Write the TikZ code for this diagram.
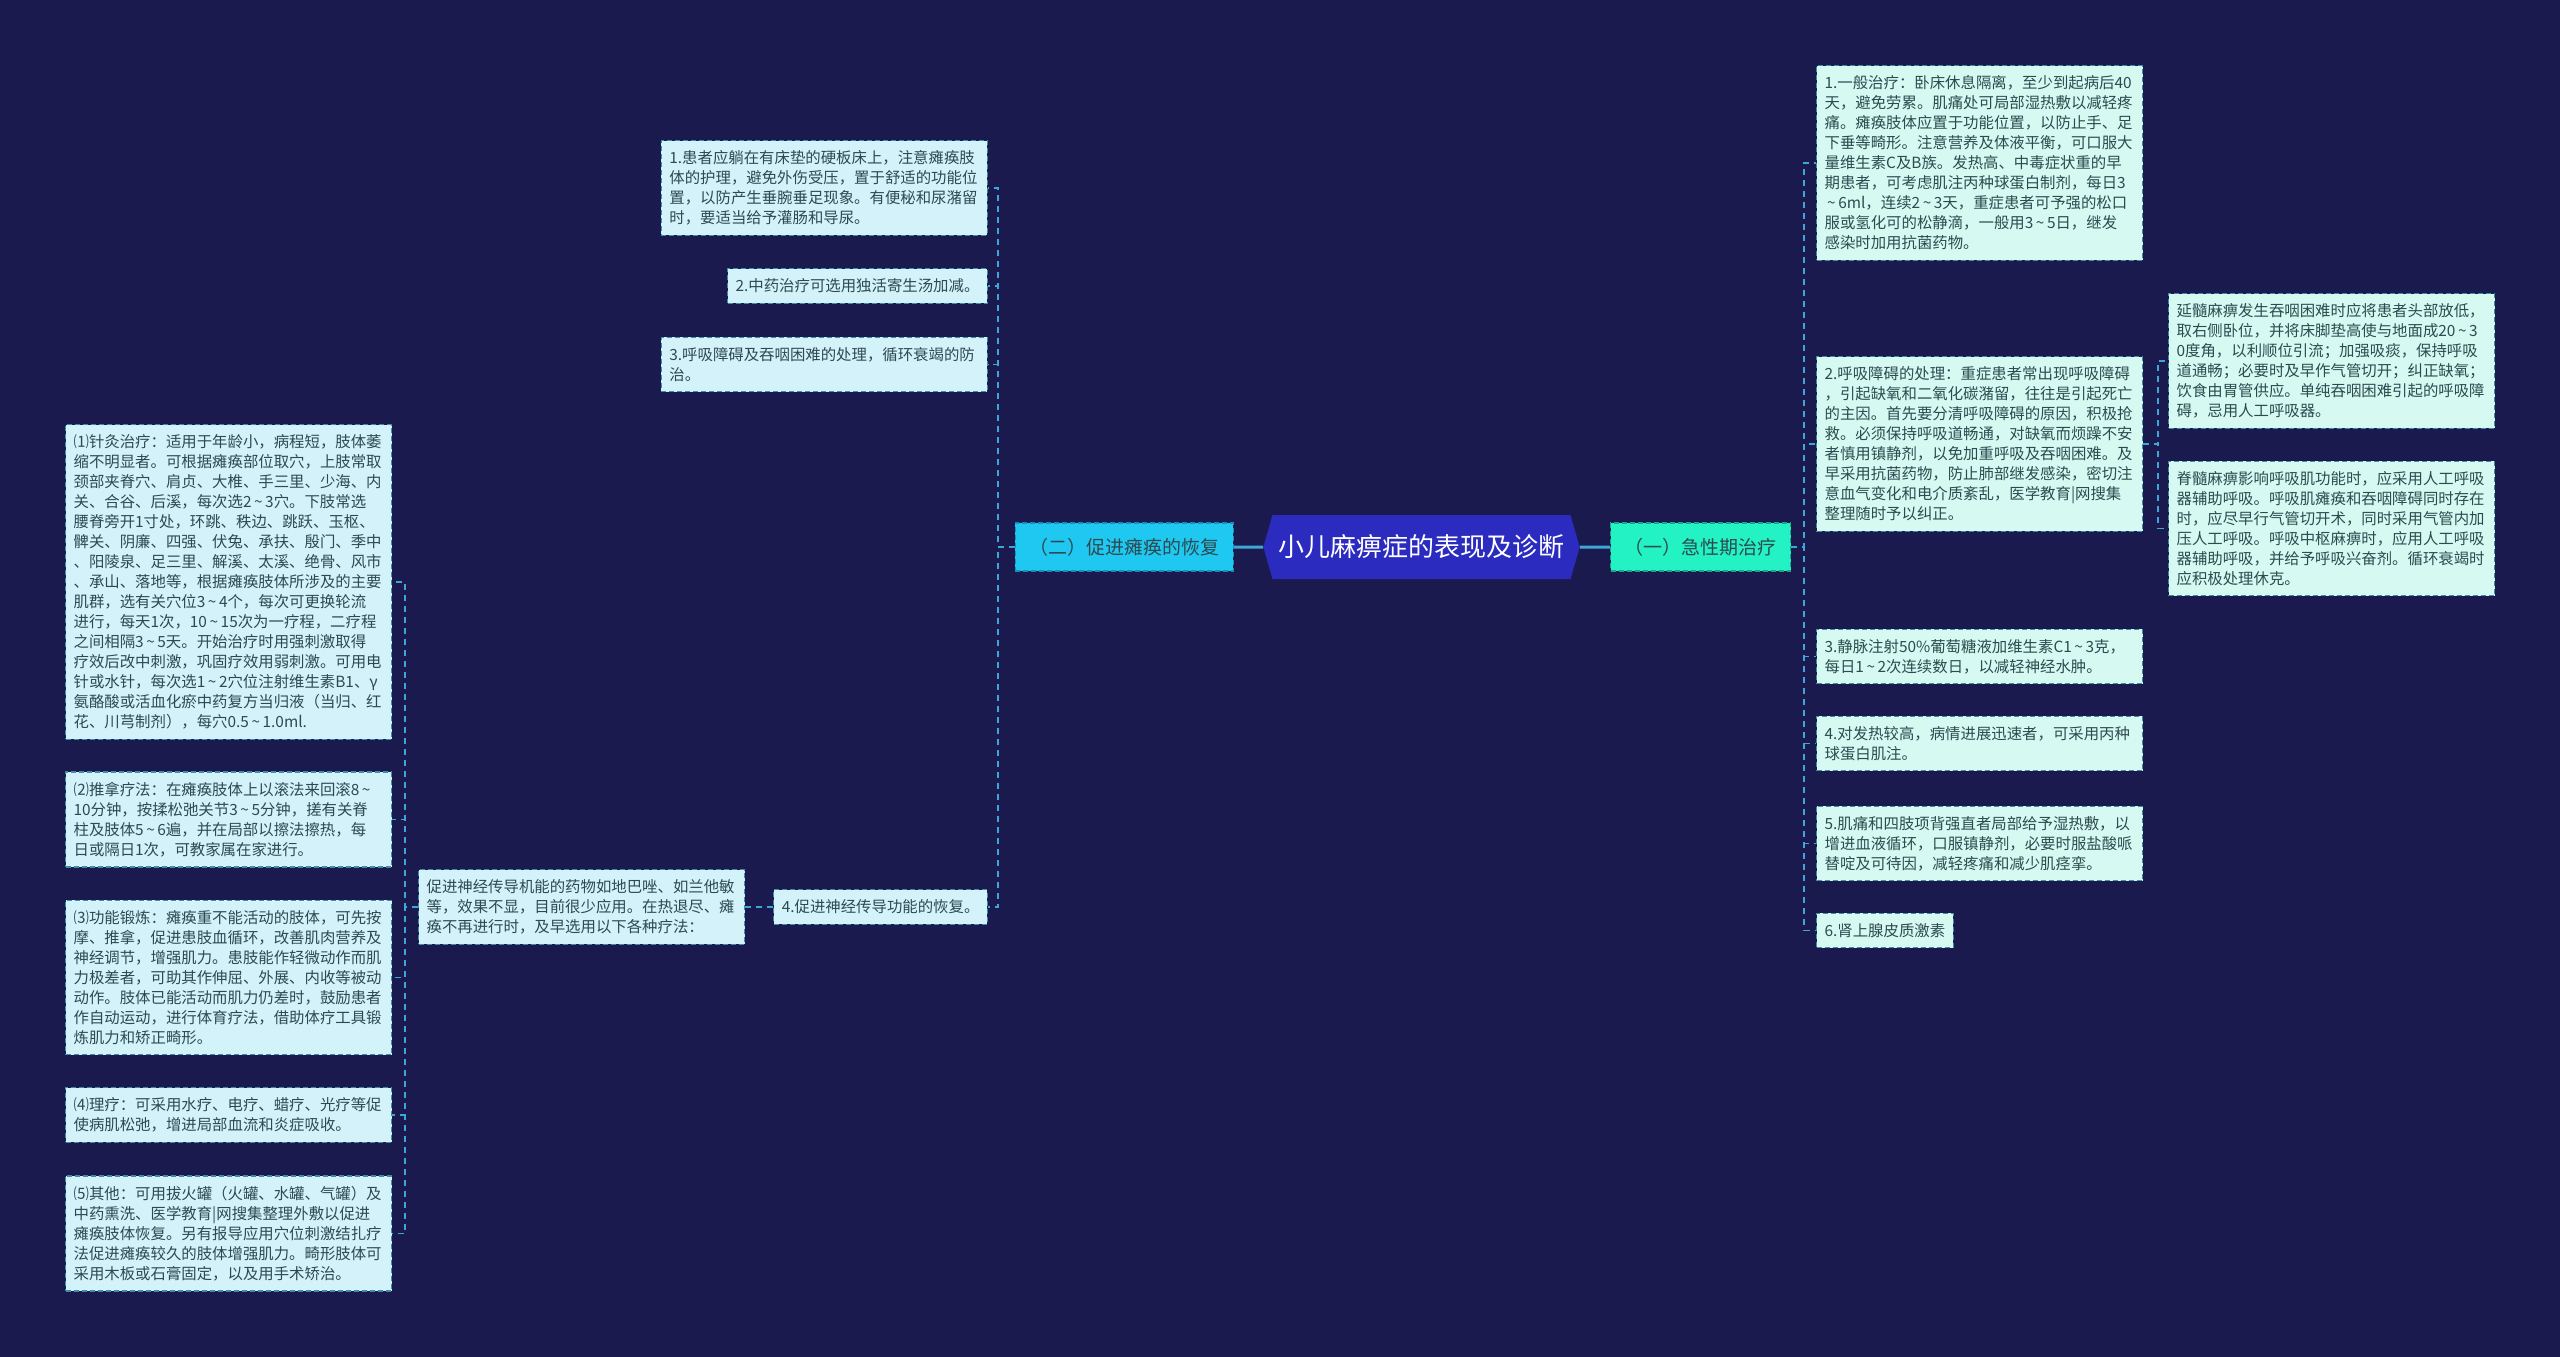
\documentclass[tikz,border=0pt]{standalone}
\usepackage{fontspec}
\newfontfamily\cjk{Noto Sans CJK SC}
\usepackage{tikz}
\usetikzlibrary{shapes.symbols}
\definecolor{night}{HTML}{1A1A4E}
\definecolor{rootfill}{HTML}{2B2BC0}
\definecolor{slowfill}{HTML}{1EC8F0}
\definecolor{slowedge}{HTML}{1590B8}
\definecolor{fastfill}{HTML}{22F2C4}
\definecolor{fastedge}{HTML}{18A888}
\definecolor{slowpanel}{HTML}{D3F2FA}
\definecolor{fastpanel}{HTML}{D6FAF1}
\definecolor{edge}{HTML}{3E8EA6}
\definecolor{linkblue}{HTML}{3DA8D8}
\definecolor{ink}{HTML}{2E4A50}
\newcommand{\rng}{\,\textasciitilde\,}

\begin{document}
\begin{tikzpicture}[x=1pt,y=-1pt,
  every node/.style={font=\cjk\fontsize{15.4}{20}\selectfont,text=ink},
  leaf/.style={draw=edge,dash pattern=on 5pt off 3pt,line width=1.2pt,inner xsep=8pt,inner ysep=10pt,align=left},
  wide/.style={leaf,text width=310pt},
  slowbox/.style={fill=slowpanel},
  fastbox/.style={fill=fastpanel},
  head/.style={dash pattern=on 5pt off 3pt,line width=1.2pt,font=\cjk\fontsize{19}{22}\selectfont,text=ink,inner xsep=14pt,minimum height=48pt},
  wire/.style={draw=linkblue,line width=1.5pt,dash pattern=on 6pt off 5pt},
  stem/.style={draw=linkblue,line width=3pt}]
\fill[night] (0,0) rectangle (2560,1357);
\useasboundingbox (0,0) rectangle (2560,1357);

% centre and the two branches
\node[signal,signal to=east and west,signal pointer angle=148,fill=rootfill,text=white,font=\cjk\fontsize{26}{30}\selectfont,minimum height=64pt,inner xsep=6pt] (T) at (1421.5,547) {小儿麻痹症的表现及诊断};
\node[head,draw=slowedge,fill=slowfill,anchor=east] (S) at (1234,547) {（二）促进瘫痪的恢复};
\node[head,draw=fastedge,fill=fastfill,anchor=west] (F) at (1610,547) {（一）急性期治疗};

% right side
\node[wide,fastbox,anchor=west] (R1) at (1816,163) {1.一般治疗：卧床休息隔离，至少到起病后40\\天，避免劳累。肌痛处可局部湿热敷以减轻疼\\痛。瘫痪肢体应置于功能位置，以防止手、足\\下垂等畸形。注意营养及体液平衡，可口服大\\量维生素C及B族。发热高、中毒症状重的早\\期患者，可考虑肌注丙种球蛋白制剂，每日3\\\rng 6ml，连续2\rng 3天，重症患者可予强的松口\\服或氢化可的松静滴，一般用3\rng 5日，继发\\感染时加用抗菌药物。};
\node[wide,fastbox,anchor=west] (R2) at (1816,444) {2.呼吸障碍的处理：重症患者常出现呼吸障碍\\，引起缺氧和二氧化碳潴留，往往是引起死亡\\的主因。首先要分清呼吸障碍的原因，积极抢\\救。必须保持呼吸道畅通，对缺氧而烦躁不安\\者慎用镇静剂，以免加重呼吸及吞咽困难。及\\早采用抗菌药物，防止肺部继发感染，密切注\\意血气变化和电介质紊乱，医学教育|网搜集\\整理随时予以纠正。};
\node[wide,fastbox,anchor=west] (R3) at (1816,656.5) {3.静脉注射50\%葡萄糖液加维生素C1\rng 3克，\\每日1\rng 2次连续数日，以减轻神经水肿。};
\node[wide,fastbox,anchor=west] (R4) at (1816,743.5) {4.对发热较高，病情进展迅速者，可采用丙种\\球蛋白肌注。};
\node[wide,fastbox,anchor=west] (R5) at (1816,843.5) {5.肌痛和四肢项背强直者局部给予湿热敷，以\\增进血液循环，口服镇静剂，必要时服盐酸哌\\替啶及可待因，减轻疼痛和减少肌痉挛。};
\node[leaf,fastbox,anchor=west] (R6) at (1816,930.5) {6.肾上腺皮质激素};
\node[wide,fastbox,anchor=west] (Q1) at (2168,361) {延髓麻痹发生吞咽困难时应将患者头部放低，\\取右侧卧位，并将床脚垫高使与地面成20\rng 3\\0度角，以利顺位引流；加强吸痰，保持呼吸\\道通畅；必要时及早作气管切开；纠正缺氧；\\饮食由胃管供应。单纯吞咽困难引起的呼吸障\\碍，忌用人工呼吸器。};
\node[wide,fastbox,anchor=west] (Q2) at (2168,528.5) {脊髓麻痹影响呼吸肌功能时，应采用人工呼吸\\器辅助呼吸。呼吸肌瘫痪和吞咽障碍同时存在\\时，应尽早行气管切开术，同时采用气管内加\\压人工呼吸。呼吸中枢麻痹时，应用人工呼吸\\器辅助呼吸，并给予呼吸兴奋剂。循环衰竭时\\应积极处理休克。};

% left side
\node[wide,slowbox,anchor=east] (L1) at (988,188) {1.患者应躺在有床垫的硬板床上，注意瘫痪肢\\体的护理，避免外伤受压，置于舒适的功能位\\置，以防产生垂腕垂足现象。有便秘和尿潴留\\时，要适当给予灌肠和导尿。};
\node[leaf,slowbox,anchor=east] (L2) at (988,286) {2.中药治疗可选用独活寄生汤加减。};
\node[wide,slowbox,anchor=east] (L3) at (988,364.5) {3.呼吸障碍及吞咽困难的处理，循环衰竭的防\\治。};
\node[leaf,slowbox,anchor=east] (L4) at (988,907) {4.促进神经传导功能的恢复。};
\node[wide,slowbox,anchor=west] (N) at (418,907) {促进神经传导机能的药物如地巴唑、如兰他敏\\等，效果不显，目前很少应用。在热退尽、瘫\\痪不再进行时，及早选用以下各种疗法：};
\node[wide,slowbox,anchor=west] (P1) at (65,582) {⑴针灸治疗：适用于年龄小，病程短，肢体萎\\缩不明显者。可根据瘫痪部位取穴，上肢常取\\颈部夹脊穴、肩贞、大椎、手三里、少海、内\\关、合谷、后溪，每次选2\rng 3穴。下肢常选\\腰脊旁开1寸处，环跳、秩边、跳跃、玉枢、\\髀关、阴廉、四强、伏兔、承扶、殷门、季中\\、阳陵泉、足三里、解溪、太溪、绝骨、风市\\、承山、落地等，根据瘫痪肢体所涉及的主要\\肌群，选有关穴位3\rng 4个，每次可更换轮流\\进行，每天1次，10\rng 15次为一疗程，二疗程\\之间相隔3\rng 5天。开始治疗时用强刺激取得\\疗效后改中刺激，巩固疗效用弱刺激。可用电\\针或水针，每次选1\rng 2穴位注射维生素B1、γ\\氨酪酸或活血化瘀中药复方当归液（当归、红\\花、川芎制剂），每穴0.5\rng 1.0ml.};
\node[wide,slowbox,anchor=west] (P2) at (65,819.5) {⑵推拿疗法：在瘫痪肢体上以滚法来回滚8\rng\\10分钟，按揉松弛关节3\rng 5分钟，搓有关脊\\柱及肢体5\rng 6遍，并在局部以擦法擦热，每\\日或隔日1次，可教家属在家进行。};
\node[wide,slowbox,anchor=west] (P3) at (65,977.5) {⑶功能锻炼：瘫痪重不能活动的肢体，可先按\\摩、推拿，促进患肢血循环，改善肌肉营养及\\神经调节，增强肌力。患肢能作轻微动作而肌\\力极差者，可助其作伸屈、外展、内收等被动\\动作。肢体已能活动而肌力仍差时，鼓励患者\\作自动运动，进行体育疗法，借助体疗工具锻\\炼肌力和矫正畸形。};
\node[wide,slowbox,anchor=west] (P4) at (65,1115) {⑷理疗：可采用水疗、电疗、蜡疗、光疗等促\\使病肌松弛，增进局部血流和炎症吸收。};
\node[wide,slowbox,anchor=west] (P5) at (65,1233.5) {⑸其他：可用拔火罐（火罐、水罐、气罐）及\\中药熏洗、医学教育|网搜集整理外敷以促进\\瘫痪肢体恢复。另有报导应用穴位刺激结扎疗\\法促进瘫痪较久的肢体增强肌力。畸形肢体可\\采用木板或石膏固定，以及用手术矫治。};

% connectors
\draw[stem] (T) -- (S);
\draw[stem] (T) -- (F);
\foreach \i in {1,...,6} \draw[wire] (F.east) -- ++(13,0) |- (R\i.west);
\foreach \i in {1,2} \draw[wire] (R2.east) -- ++(15,0) |- (Q\i.west);
\foreach \i in {1,...,4} \draw[wire] (S.west) -- ++(-17,0) |- (L\i.east);
\draw[wire] (L4.west) -- (N.east);
\foreach \i in {1,...,5} \draw[wire] (N.west) -- ++(-13,0) |- (P\i.east);
\end{tikzpicture}
\end{document}
